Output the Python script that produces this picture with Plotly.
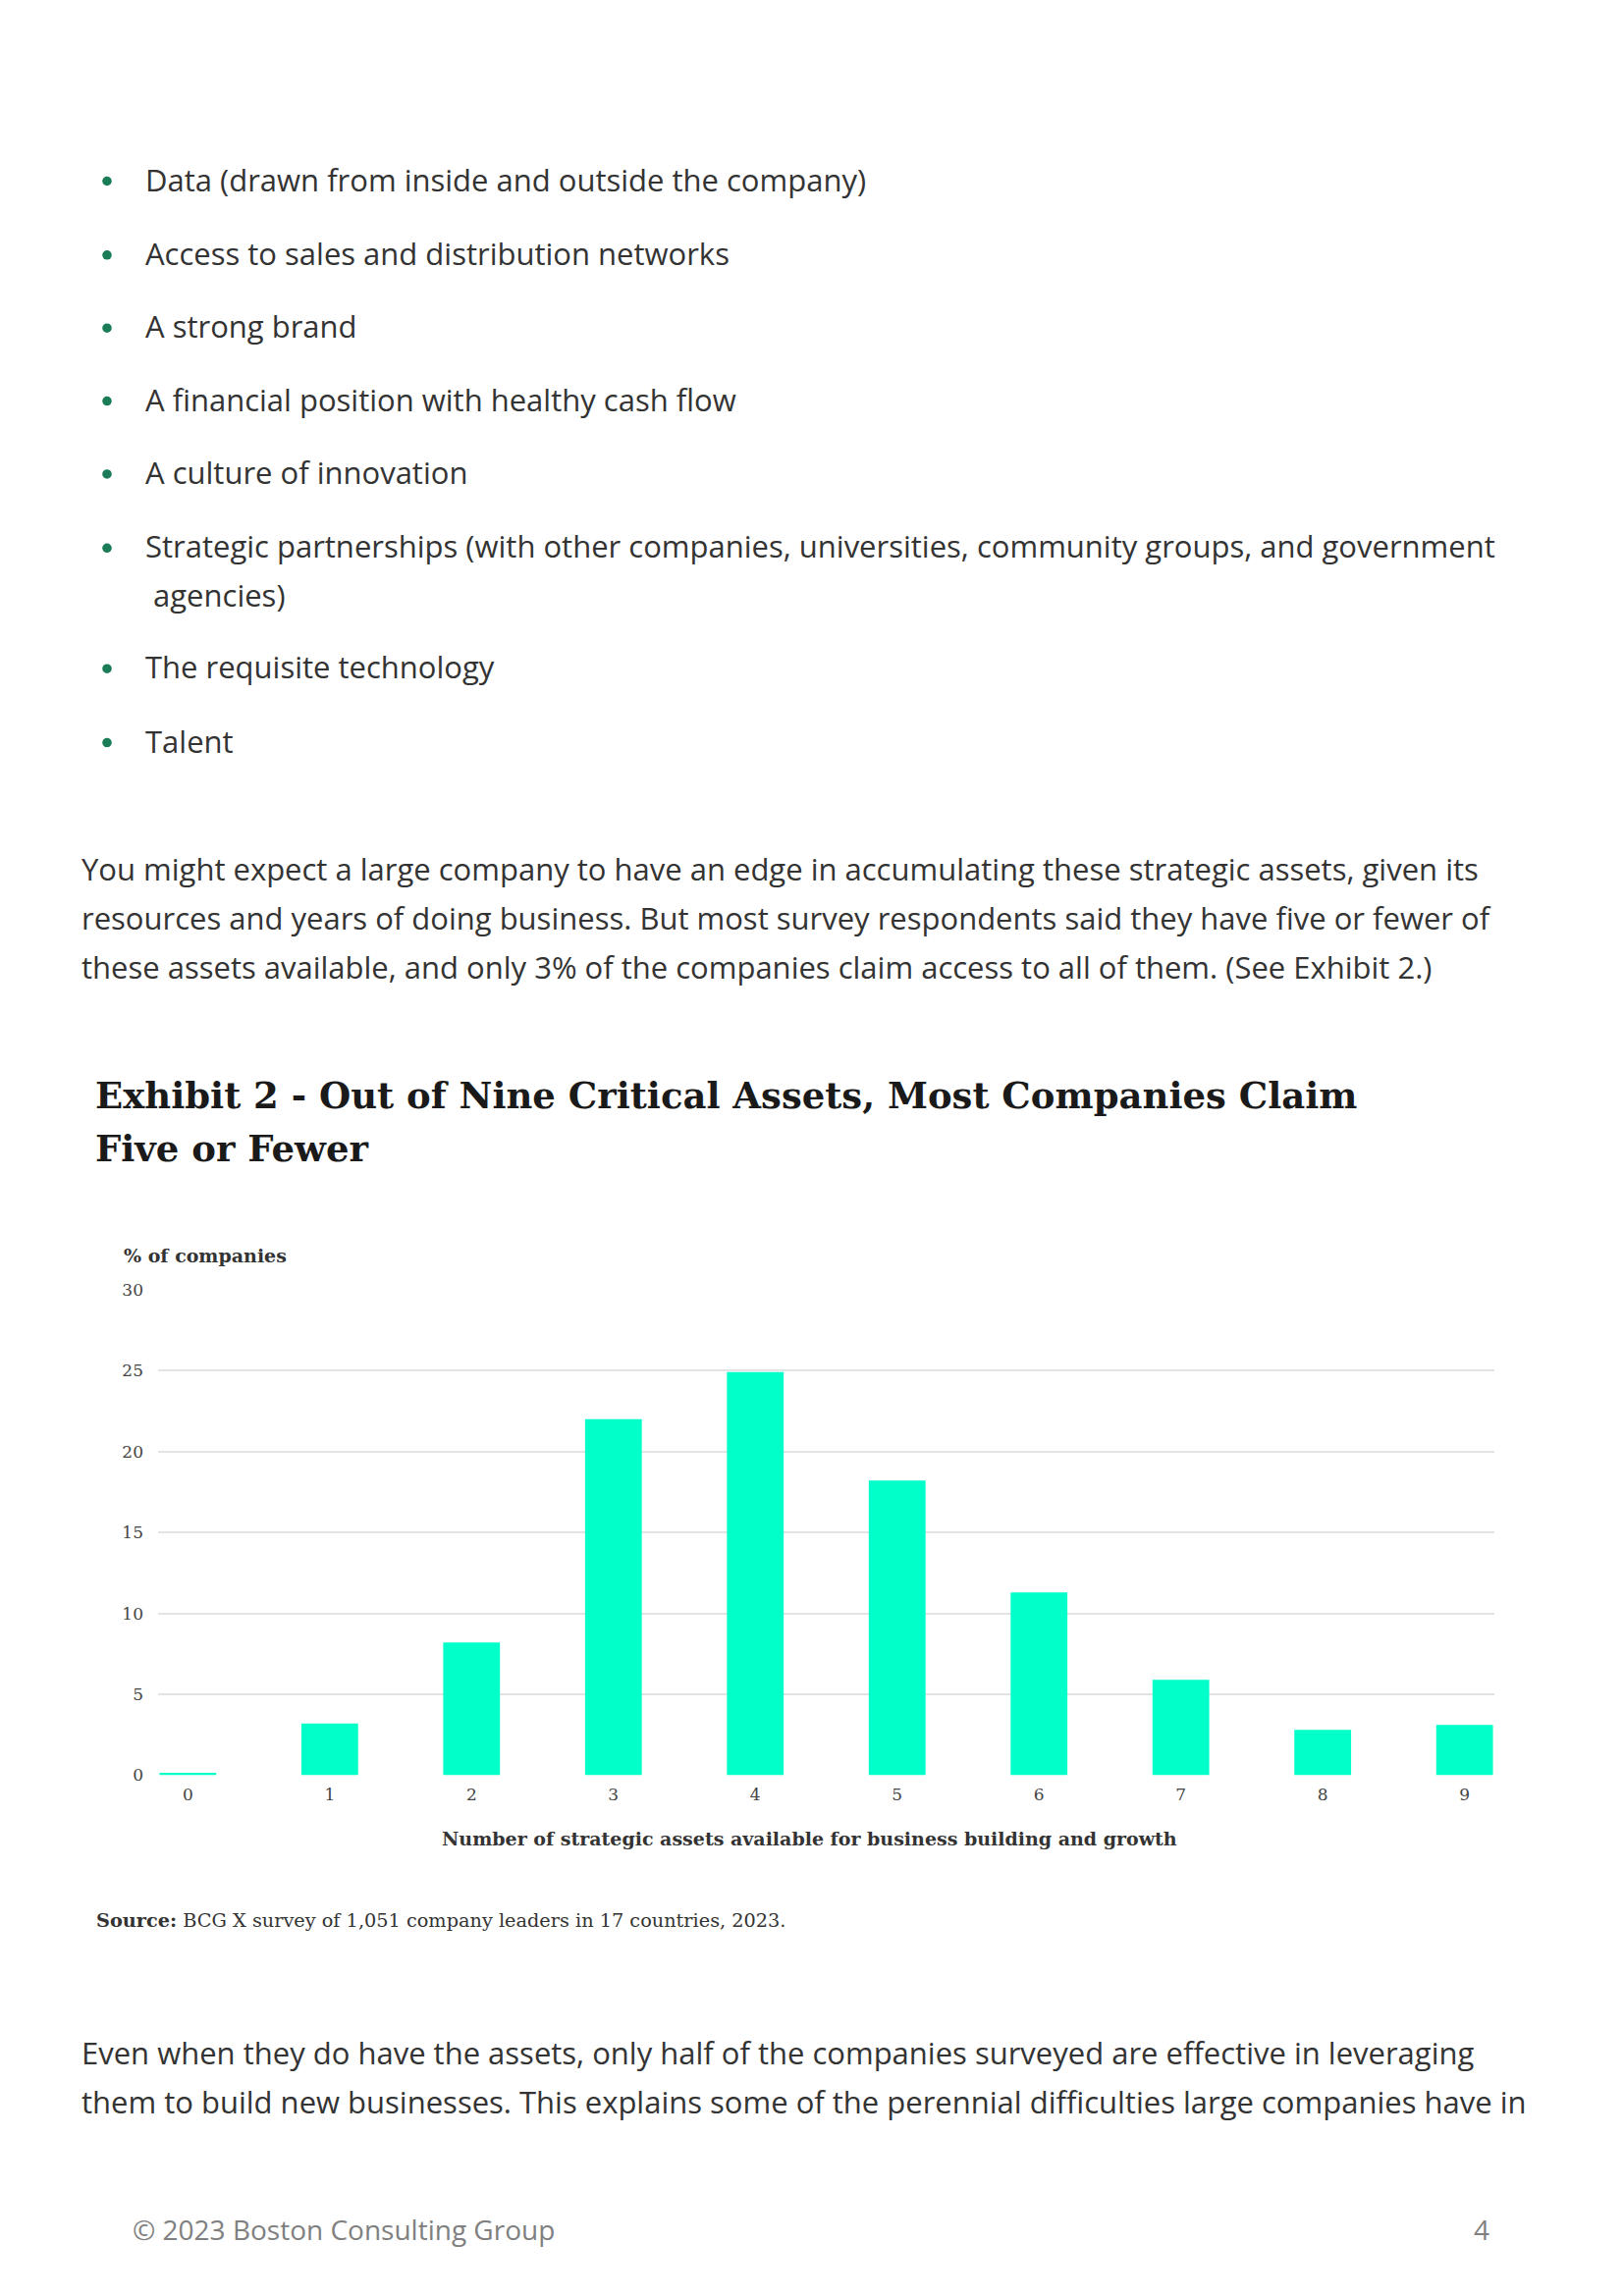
import plotly.graph_objects as go

# ---------------- data ----------------
asset_counts = [0, 1, 2, 3, 4, 5, 6, 7, 8, 9]
pct_companies = [0.15, 3.2, 8.2, 22.0, 24.9, 18.2, 11.3, 5.9, 2.8, 3.1]
y_ticks = [0, 5, 10, 15, 20, 25, 30]

bullets = [
    "Data (drawn from inside and outside the company)",
    "Access to sales and distribution networks",
    "A strong brand",
    "A financial position with healthy cash flow",
    "A culture of innovation",
    "Strategic partnerships (with other companies, universities, community groups, and government",
    "The requisite technology",
    "Talent",
]
bullet_cont = " agencies)"
para1 = [
    "You might expect a large company to have an edge in accumulating these strategic assets, given its",
    "resources and years of doing business. But most survey respondents said they have five or fewer of",
    "these assets available, and only 3% of the companies claim access to all of them. (See Exhibit 2.)",
]
title_lines = ["Exhibit 2 - Out of Nine Critical Assets, Most Companies Claim", "Five or Fewer"]
y_title = "% of companies"
x_title = "Number of strategic assets available for business building and growth"
source_bold = "Source:"
source_text = " BCG X survey of 1,051 company leaders in 17 countries, 2023."
para2 = [
    "Even when they do have the assets, only half of the companies surveyed are effective in leveraging",
    "them to build new businesses. This explains some of the perennial difficulties large companies have in",
]
footer_left = "© 2023 Boston Consulting Group"
footer_right = "4"

# ---------------- layout helpers ----------------
W, H = 1653, 2339

def px(x):
    return x / W

def py(y):
    return 1 - y / H

BODY_FONT = "Open Sans"
SERIF = "DejaVu Serif"
TEXT_COL = "#333333"
BAR_COL = "#00FFC9"
GRID_COL = "#E3E3E3"
BULLET_COL = "#1B7D58"

fig = go.Figure()
fig.add_trace(go.Bar(
    x=asset_counts, y=pct_companies,
    marker=dict(color=BAR_COL, line=dict(width=0)),
    width=0.4, hoverinfo="x+y",
))

annos = []
shapes = []

def text(x, y, s, size, color=TEXT_COL, family=BODY_FONT, xanchor="left"):
    annos.append(dict(
        x=px(x), y=py(y), xref="paper", yref="paper", text=s, showarrow=False,
        xanchor=xanchor, yanchor="middle", align="left",
        font=dict(size=size, color=color, family=family),
    ))

def dot(x, y, r):
    shapes.append(dict(
        type="circle", xref="paper", yref="paper",
        x0=px(x - r), x1=px(x + r), y0=py(y + r), y1=py(y - r),
        fillcolor=BULLET_COL, line=dict(width=0),
    ))

# bullets
bullet_y = [174, 250, 325, 400, 475, 551, 675, 751]
for s, yy in zip(bullets, bullet_y):
    dot(109, yy + 2, 4.8)
    text(146, yy, s, 31)
text(146, 601, bullet_cont, 31)

for s, yy in zip(para1, [883, 933, 983]):
    text(81, yy, s, 31)

for s, yy in zip(title_lines, [1116, 1170]):
    text(95, yy, "<b>" + s + "</b>", 37, color="#1A1A1A", family=SERIF)

text(124, 1280, "<b>" + y_title + "</b>", 19, color="#333333", family=SERIF)
text(824, 1879, "<b>" + x_title + "</b>", 19, color="#333333", family=SERIF, xanchor="center")
text(96, 1963, "<b>" + source_bold + "</b>" + source_text, 19.3, color="#333333", family=SERIF)

for s, yy in zip(para2, [2099, 2149]):
    text(81, yy, s, 31)

text(133, 2281, footer_left, 28, color="#808080")
text(1519, 2281, footer_right, 28, color="#808080", xanchor="right")

fig.update_layout(
    width=W, height=H,
    margin=dict(l=0, r=0, t=0, b=0),
    paper_bgcolor="white", plot_bgcolor="white",
    showlegend=False,
    bargap=0.6,
    annotations=annos,
    shapes=shapes,
    xaxis=dict(
        domain=[px(161), px(1522)],
        range=[-0.21, 9.21],
        tickmode="array", tickvals=asset_counts, ticktext=[str(v) for v in asset_counts],
        showgrid=False, zeroline=False, showline=False, ticks="",
        tickfont=dict(family=SERIF, size=17, color="#444444"),
        ticklabelstandoff=8,
        fixedrange=True,
    ),
    yaxis=dict(
        domain=[py(1814), py(1315)],
        range=[0, 30],
        tickmode="array", tickvals=y_ticks,
        showgrid=True, gridcolor=GRID_COL, gridwidth=2,
        zeroline=False, showline=False, ticks="",
        tickfont=dict(family=SERIF, size=17, color="#444444"),
        ticklabelstandoff=14,
        fixedrange=True,
    ),
)

fig.write_html(
    "out.html",
    config={"displayModeBar": False},
    post_script="document.body.style.margin='0';document.documentElement.style.overflow='hidden';",
)
